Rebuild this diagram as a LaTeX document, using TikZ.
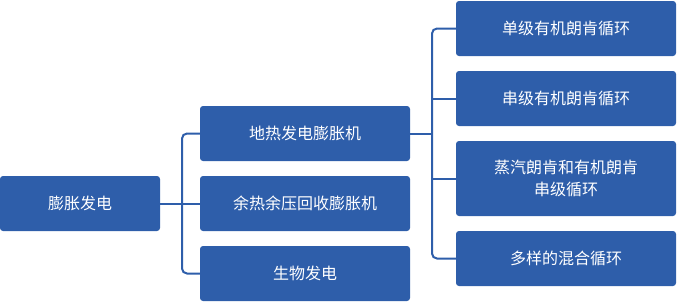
\documentclass[tikz,border=0pt]{standalone}
\usepackage{fontspec}
\newfontfamily\cjk{Noto Sans CJK SC}
\usetikzlibrary{positioning}

\begin{document}
\begin{tikzpicture}[
    x=1pt, y=-1pt,                    % 1 drawing unit = 1 px of the layout
    font=\cjk\fontsize{16}{22}\selectfont,
    box/.style={rectangle,rounded corners=3pt,fill=navy,text=white,
                align=center,inner sep=0pt,minimum height=55},
    link/.style={draw=navy,line width=2pt},
  ]
  \definecolor{navy}{RGB}{46,94,170}
  \useasboundingbox (0,0) rectangle (679,301);

  %% ---------------- root ----------------
  \node[box,minimum width=160] (root) at (80,203.5) {膨胀发电};

  %% ---------------- middle column ----------------
  \node[box,minimum width=210] (geo)   at (305,133.5) {地热发电膨胀机};
  \node[box,minimum width=210] (waste) at (305,203.5) {余热余压回收膨胀机};
  \node[box,minimum width=210] (bio)   at (305,273.5) {生物发电};

  %% ---------------- right column ----------------
  \node[box,minimum width=220] (single) at (566,28.5)  {单级有机朗肯循环};
  \node[box,minimum width=220] (series) at (566,98.5)  {串级有机朗肯循环};
  \node[box,minimum width=220,minimum height=75] (steam) at (566,178.5)
        {蒸汽朗肯和有机朗肯\\串级循环};
  \node[box,minimum width=220] (mixed)  at (566,258.5) {多样的混合循环};

  %% ---------------- connectors ----------------
  \coordinate (busA) at (182,203.5);
  \draw[link] (root) -- (waste);
  \draw[link,rounded corners=5pt] (geo.west) -| (busA) |- (bio.west);

  \coordinate (busB) at (432,133.5);
  \draw[link] (geo.east) -- (busB);
  \draw[link,rounded corners=5pt] (single.west) -| (busB) |- (mixed.west);
  \draw[link] (busB |- series) -- (series.west);
  \draw[link] (busB |- steam) -- (steam.west);
\end{tikzpicture}
\end{document}
